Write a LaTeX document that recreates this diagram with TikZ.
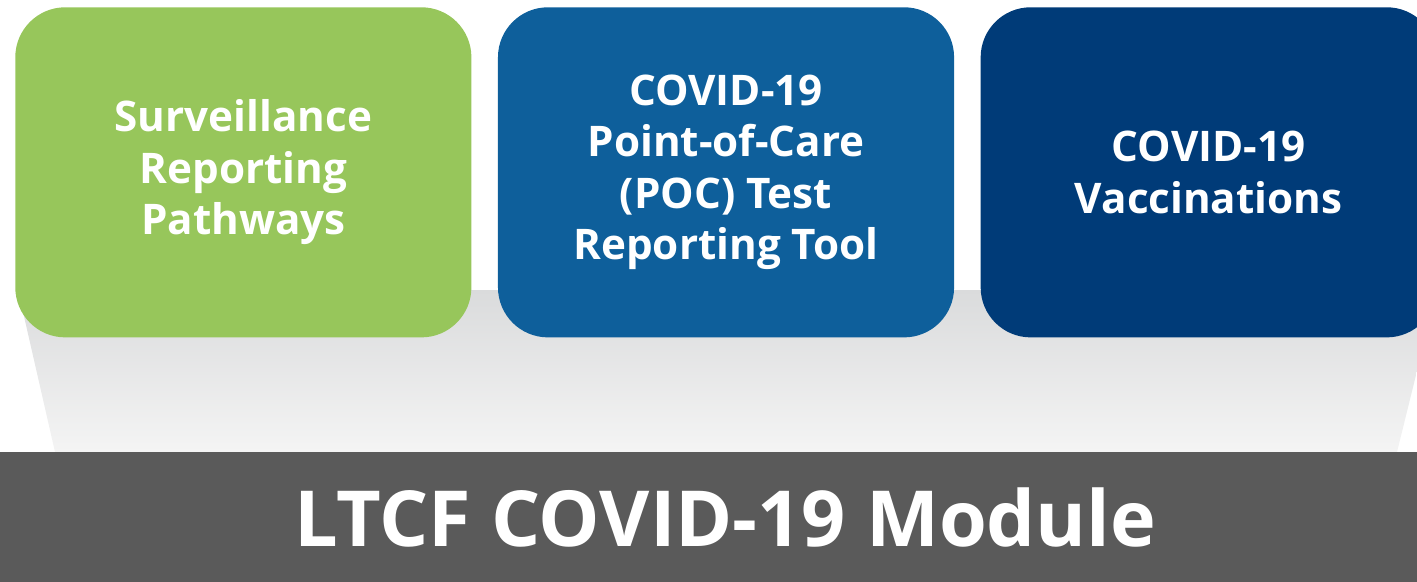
\documentclass[tikz,border=0pt]{standalone}
\usepackage{fontspec}
\setmainfont{Open Sans}
\usepackage{tikz}
\usetikzlibrary{positioning, calc}
\definecolor{survgreen}{HTML}{97C65B}
\definecolor{pocblue}{HTML}{0E5F9B}
\definecolor{vaxblue}{HTML}{003B78}
\definecolor{modgray}{HTML}{5A5A5A}
\definecolor{shadetop}{HTML}{DADBDC}
\definecolor{shadebot}{HTML}{F4F4F4}
\tikzset{
    part/.style={rectangle, rounded corners=1.25cm, minimum width=11.4cm,
      minimum height=8.25cm, align=center, text=white, inner sep=0pt,
      font=\fontsize{30}{36.5}\selectfont\bfseries},
    modbar/.style={rectangle, fill=modgray, minimum width=36.25cm,
      minimum height=3.25cm, text=white, font=\fontsize{55}{66}\selectfont\bfseries},
}
\begin{document}
\begin{tikzpicture}[x=0.025cm, y=-0.025cm]
    \useasboundingbox (0,0) rectangle (1417,581);
    \clip (0,0) rectangle (1417,581);

    % soft base under the three boxes
    \shade[top color=shadetop, bottom color=shadebot]
      (18,290) -- (1437,290) -- (1397,452) -- (55,452) -- cycle;

    \node[part, fill=survgreen, anchor=north west] (surv) at (15,7) {Surveillance\\Reporting\\Pathways};
    \node[part, fill=pocblue, right=0.65cm of surv] (poc) {COVID-19\\Point-of-Care\\(POC) Test\\Reporting Tool};
    \node[part, fill=vaxblue, right=0.65cm of poc] (vax) {COVID-19\\Vaccinations};

    \node[modbar] (ltcf) at (725,517) {LTCF COVID-19 Module};
\end{tikzpicture}
\end{document}
